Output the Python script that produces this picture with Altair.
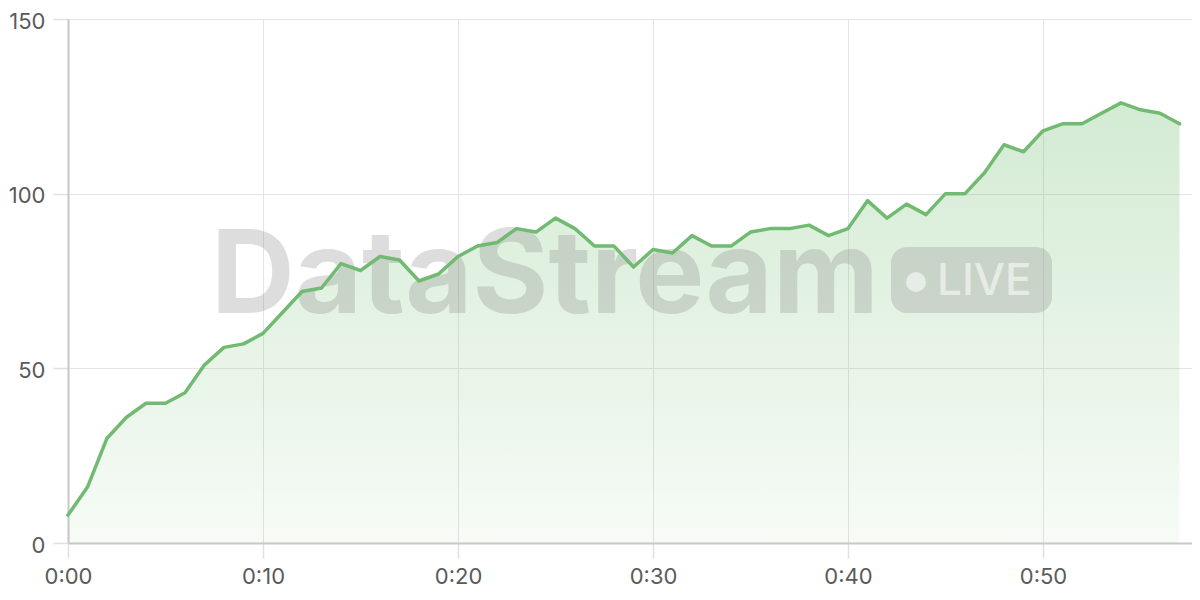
import altair as alt
import pandas as pd

minutes = list(range(58))
values = [8, 16, 30, 36, 40, 40, 43, 51, 56, 57,
          60, 66, 72, 73, 80, 78, 82, 81, 75, 77,
          82, 85, 86, 90, 89, 93, 90, 85, 85, 79,
          84, 83, 88, 85, 85, 89, 90, 90, 91, 88,
          90, 98, 93, 97, 94, 100, 100, 106, 114, 112,
          118, 120, 120, 123, 126, 124, 123, 120]
x_ticks = [0, 10, 20, 30, 40, 50]
y_ticks = [0, 50, 100, 150]

df = pd.DataFrame({"t": minutes, "v": values})

FONT = "Inter"
GREEN = "#72ba72"

x_enc = alt.X("t:Q", scale=alt.Scale(domain=[0, 57.64], nice=False, zero=False),
              axis=alt.Axis(values=x_ticks, title=None, labelFlush=False,
                            labelExpr="'0:' + (datum.value < 10 ? '0' : '') + datum.value"))
y_enc = alt.Y("v:Q", scale=alt.Scale(domain=[0, 150], nice=False),
              axis=alt.Axis(values=y_ticks, title=None, labelFlush=False, labelOffset=2))

base = alt.Chart(df)

area = base.mark_area(
    color=alt.Gradient(
        gradient="linear", x1=0, y1=1, x2=0, y2=0,
        stops=[alt.GradientStop(color="rgba(109,187,109,0.06)", offset=0),
               alt.GradientStop(color="rgba(109,187,109,0.30)", offset=1)]),
    interpolate="linear",
).encode(x=x_enc, y=y_enc)

line = base.mark_line(color=GREEN, strokeWidth=3.5, strokeJoin="round", strokeCap="round").encode(
    x=x_enc, y=y_enc)

wm_text = alt.Chart(pd.DataFrame({"s": ["DataStream"]})).mark_text(
    font=FONT, fontSize=116, fontWeight="bold", color="#888888", opacity=0.28,
    align="left", baseline="alphabetic"
).encode(x=alt.value(143), y=alt.value(294), text="s:N")

badge = alt.Chart(pd.DataFrame({"s": ["LIVE"]})).mark_rect(
    color="#888888", opacity=0.28, cornerRadius=16
).encode(x=alt.value(823), x2=alt.value(984), y=alt.value(228), y2=alt.value(294))

dot = alt.Chart(pd.DataFrame({"s": ["LIVE"]})).mark_point(
    shape="circle", filled=True, color="#ffffff", opacity=0.55, size=400
).encode(x=alt.value(848), y=alt.value(263))

live = alt.Chart(pd.DataFrame({"s": ["LIVE"]})).mark_text(
    font=FONT, fontSize=44, fontWeight=500, color="#ffffff", opacity=0.55,
    align="left", baseline="alphabetic"
).encode(x=alt.value(869), y=alt.value(276), text="s:N")

chart = alt.layer(area, wm_text, badge, dot, live, line).properties(
    width=1124, height=524,
    autosize=alt.AutoSizeParams(type="none"),
    padding={"left": 60, "top": 11, "right": 0, "bottom": 49},
).configure_view(stroke=None).configure_axis(
    grid=True, gridColor="#e4e4e4", gridWidth=1,
    domainColor="#c8c8c8", domainWidth=2,
    tickColor="#e0e0e0", tickSize=15, tickWidth=1.5,
    labelFont=FONT, labelFontSize=22, labelColor="#5a5a5a", labelPadding=8,
)

chart.save("out.html", embed_options={"renderer": "svg", "actions": False})
